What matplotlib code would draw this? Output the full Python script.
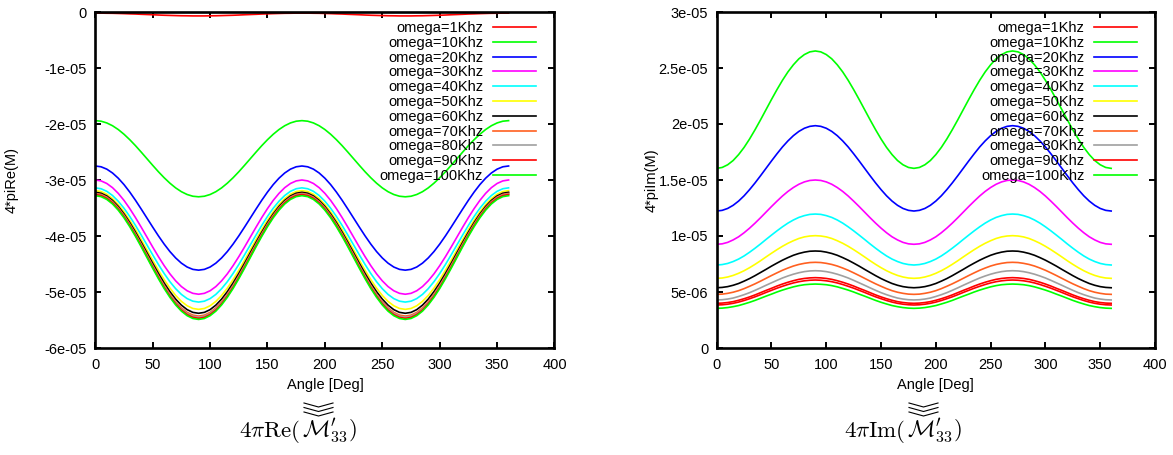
import numpy as np
import matplotlib
matplotlib.use("Agg")
import matplotlib.pyplot as plt
from matplotlib.lines import Line2D

plt.rcParams['font.family'] = ['Liberation Sans', 'DejaVu Sans']
plt.rcParams['mathtext.fontset'] = 'cm'

# angle samples (deg), every 5 deg
angle = list(range(0, 361, 5))

labels = ["omega=1Khz", "omega=10Khz", "omega=20Khz", "omega=30Khz", "omega=40Khz",
          "omega=50Khz", "omega=60Khz", "omega=70Khz", "omega=80Khz", "omega=90Khz",
          "omega=100Khz"]
colors = ["#ff0000", "#00ff00", "#0000ff", "#ff00ff", "#00ffff", "#ffff00",
          "#000000", "#ff6020", "#a0a0a0", "#ff0000", "#00ff00"]

# values, in units of 1e-05
re_1k = [-0.020, -0.020, -0.022, -0.023, -0.026, -0.029, -0.033, -0.036, -0.041, -0.045, -0.049, -0.054, -0.058, -0.061, -0.064, -0.067, -0.068, -0.070, -0.070,
         -0.070, -0.068, -0.067, -0.064, -0.061, -0.058, -0.054, -0.049, -0.045, -0.041, -0.036, -0.033, -0.029, -0.026, -0.023, -0.022, -0.020, -0.020,
         -0.020, -0.022, -0.023, -0.026, -0.029, -0.033, -0.036, -0.041, -0.045, -0.049, -0.054, -0.058, -0.061, -0.064, -0.067, -0.068, -0.070, -0.070,
         -0.070, -0.068, -0.067, -0.064, -0.061, -0.058, -0.054, -0.049, -0.045, -0.041, -0.036, -0.033, -0.029, -0.026, -0.023, -0.022, -0.020, -0.020]
re_10k = [-1.940, -1.950, -1.981, -2.031, -2.099, -2.183, -2.280, -2.387, -2.502, -2.620, -2.738, -2.853, -2.960, -3.057, -3.141, -3.209, -3.259, -3.290, -3.300,
          -3.290, -3.259, -3.209, -3.141, -3.057, -2.960, -2.853, -2.738, -2.620, -2.502, -2.387, -2.280, -2.183, -2.099, -2.031, -1.981, -1.950, -1.940,
          -1.950, -1.981, -2.031, -2.099, -2.183, -2.280, -2.387, -2.502, -2.620, -2.738, -2.853, -2.960, -3.057, -3.141, -3.209, -3.259, -3.290, -3.300,
          -3.290, -3.259, -3.209, -3.141, -3.057, -2.960, -2.853, -2.738, -2.620, -2.502, -2.387, -2.280, -2.183, -2.099, -2.031, -1.981, -1.950, -1.940]
re_20k = [-2.750, -2.764, -2.806, -2.875, -2.968, -3.082, -3.215, -3.362, -3.519, -3.680, -3.841, -3.998, -4.145, -4.278, -4.392, -4.485, -4.554, -4.596, -4.610,
          -4.596, -4.554, -4.485, -4.392, -4.278, -4.145, -3.998, -3.841, -3.680, -3.519, -3.362, -3.215, -3.082, -2.968, -2.875, -2.806, -2.764, -2.750,
          -2.764, -2.806, -2.875, -2.968, -3.082, -3.215, -3.362, -3.519, -3.680, -3.841, -3.998, -4.145, -4.278, -4.392, -4.485, -4.554, -4.596, -4.610,
          -4.596, -4.554, -4.485, -4.392, -4.278, -4.145, -3.998, -3.841, -3.680, -3.519, -3.362, -3.215, -3.082, -2.968, -2.875, -2.806, -2.764, -2.750]
re_30k = [-3.000, -3.016, -3.062, -3.137, -3.239, -3.364, -3.510, -3.671, -3.843, -4.020, -4.197, -4.369, -4.530, -4.676, -4.801, -4.903, -4.978, -5.024, -5.040,
          -5.024, -4.978, -4.903, -4.801, -4.676, -4.530, -4.369, -4.197, -4.020, -3.843, -3.671, -3.510, -3.364, -3.239, -3.137, -3.062, -3.016, -3.000,
          -3.016, -3.062, -3.137, -3.239, -3.364, -3.510, -3.671, -3.843, -4.020, -4.197, -4.369, -4.530, -4.676, -4.801, -4.903, -4.978, -5.024, -5.040,
          -5.024, -4.978, -4.903, -4.801, -4.676, -4.530, -4.369, -4.197, -4.020, -3.843, -3.671, -3.510, -3.364, -3.239, -3.137, -3.062, -3.016, -3.000]
re_40k = [-3.140, -3.156, -3.202, -3.277, -3.379, -3.504, -3.650, -3.811, -3.983, -4.160, -4.337, -4.509, -4.670, -4.816, -4.941, -5.043, -5.118, -5.164, -5.180,
          -5.164, -5.118, -5.043, -4.941, -4.816, -4.670, -4.509, -4.337, -4.160, -3.983, -3.811, -3.650, -3.504, -3.379, -3.277, -3.202, -3.156, -3.140,
          -3.156, -3.202, -3.277, -3.379, -3.504, -3.650, -3.811, -3.983, -4.160, -4.337, -4.509, -4.670, -4.816, -4.941, -5.043, -5.118, -5.164, -5.180,
          -5.164, -5.118, -5.043, -4.941, -4.816, -4.670, -4.509, -4.337, -4.160, -3.983, -3.811, -3.650, -3.504, -3.379, -3.277, -3.202, -3.156, -3.140]
re_50k = [-3.190, -3.206, -3.254, -3.332, -3.438, -3.569, -3.720, -3.887, -4.066, -4.250, -4.434, -4.613, -4.780, -4.931, -5.062, -5.168, -5.246, -5.294, -5.310,
          -5.294, -5.246, -5.168, -5.062, -4.931, -4.780, -4.613, -4.434, -4.250, -4.066, -3.887, -3.720, -3.569, -3.438, -3.332, -3.254, -3.206, -3.190,
          -3.206, -3.254, -3.332, -3.438, -3.569, -3.720, -3.887, -4.066, -4.250, -4.434, -4.613, -4.780, -4.931, -5.062, -5.168, -5.246, -5.294, -5.310,
          -5.294, -5.246, -5.168, -5.062, -4.931, -4.780, -4.613, -4.434, -4.250, -4.066, -3.887, -3.720, -3.569, -3.438, -3.332, -3.254, -3.206, -3.190]
re_60k = [-3.220, -3.236, -3.285, -3.365, -3.473, -3.606, -3.760, -3.931, -4.113, -4.300, -4.488, -4.669, -4.840, -4.994, -5.127, -5.235, -5.315, -5.364, -5.380,
          -5.364, -5.315, -5.235, -5.127, -4.994, -4.840, -4.669, -4.488, -4.300, -4.113, -3.931, -3.760, -3.606, -3.473, -3.365, -3.285, -3.236, -3.220,
          -3.236, -3.285, -3.365, -3.473, -3.606, -3.760, -3.931, -4.113, -4.300, -4.488, -4.669, -4.840, -4.994, -5.127, -5.235, -5.315, -5.364, -5.380,
          -5.364, -5.315, -5.235, -5.127, -4.994, -4.840, -4.669, -4.488, -4.300, -4.113, -3.931, -3.760, -3.606, -3.473, -3.365, -3.285, -3.236, -3.220]
re_70k = [-3.240, -3.257, -3.306, -3.387, -3.496, -3.631, -3.788, -3.961, -4.145, -4.335, -4.525, -4.710, -4.883, -5.039, -5.174, -5.283, -5.364, -5.413, -5.430,
          -5.413, -5.364, -5.283, -5.174, -5.039, -4.883, -4.710, -4.525, -4.335, -4.145, -3.961, -3.788, -3.631, -3.496, -3.387, -3.306, -3.257, -3.240,
          -3.257, -3.306, -3.387, -3.496, -3.631, -3.788, -3.961, -4.145, -4.335, -4.525, -4.710, -4.883, -5.039, -5.174, -5.283, -5.364, -5.413, -5.430,
          -5.413, -5.364, -5.283, -5.174, -5.039, -4.883, -4.710, -4.525, -4.335, -4.145, -3.961, -3.788, -3.631, -3.496, -3.387, -3.306, -3.257, -3.240]
re_80k = [-3.250, -3.267, -3.316, -3.397, -3.507, -3.643, -3.800, -3.974, -4.159, -4.350, -4.541, -4.726, -4.900, -5.057, -5.193, -5.303, -5.384, -5.433, -5.450,
          -5.433, -5.384, -5.303, -5.193, -5.057, -4.900, -4.726, -4.541, -4.350, -4.159, -3.974, -3.800, -3.643, -3.507, -3.397, -3.316, -3.267, -3.250,
          -3.267, -3.316, -3.397, -3.507, -3.643, -3.800, -3.974, -4.159, -4.350, -4.541, -4.726, -4.900, -5.057, -5.193, -5.303, -5.384, -5.433, -5.450,
          -5.433, -5.384, -5.303, -5.193, -5.057, -4.900, -4.726, -4.541, -4.350, -4.159, -3.974, -3.800, -3.643, -3.507, -3.397, -3.316, -3.267, -3.250]
re_90k = [-3.260, -3.277, -3.327, -3.408, -3.519, -3.655, -3.813, -3.987, -4.173, -4.365, -4.557, -4.743, -4.918, -5.075, -5.211, -5.322, -5.403, -5.453, -5.470,
          -5.453, -5.403, -5.322, -5.211, -5.075, -4.918, -4.743, -4.557, -4.365, -4.173, -3.987, -3.813, -3.655, -3.519, -3.408, -3.327, -3.277, -3.260,
          -3.277, -3.327, -3.408, -3.519, -3.655, -3.813, -3.987, -4.173, -4.365, -4.557, -4.743, -4.918, -5.075, -5.211, -5.322, -5.403, -5.453, -5.470,
          -5.453, -5.403, -5.322, -5.211, -5.075, -4.918, -4.743, -4.557, -4.365, -4.173, -3.987, -3.813, -3.655, -3.519, -3.408, -3.327, -3.277, -3.260]
re_100k = [-3.280, -3.297, -3.347, -3.428, -3.539, -3.675, -3.833, -4.007, -4.193, -4.385, -4.577, -4.763, -4.938, -5.095, -5.231, -5.342, -5.423, -5.473, -5.490,
           -5.473, -5.423, -5.342, -5.231, -5.095, -4.938, -4.763, -4.577, -4.385, -4.193, -4.007, -3.833, -3.675, -3.539, -3.428, -3.347, -3.297, -3.280,
           -3.297, -3.347, -3.428, -3.539, -3.675, -3.833, -4.007, -4.193, -4.385, -4.577, -4.763, -4.938, -5.095, -5.231, -5.342, -5.423, -5.473, -5.490,
           -5.473, -5.423, -5.342, -5.231, -5.095, -4.938, -4.763, -4.577, -4.385, -4.193, -4.007, -3.833, -3.675, -3.539, -3.428, -3.347, -3.297, -3.280]

im_1k = [0.384, 0.386, 0.391, 0.399, 0.410, 0.424, 0.440, 0.457, 0.476, 0.496, 0.515, 0.534, 0.551, 0.567, 0.581, 0.592, 0.600, 0.605, 0.607,
         0.605, 0.600, 0.592, 0.581, 0.567, 0.551, 0.534, 0.515, 0.496, 0.476, 0.457, 0.440, 0.424, 0.410, 0.399, 0.391, 0.386, 0.384,
         0.386, 0.391, 0.399, 0.410, 0.424, 0.440, 0.457, 0.476, 0.496, 0.515, 0.534, 0.551, 0.567, 0.581, 0.592, 0.600, 0.605, 0.607,
         0.605, 0.600, 0.592, 0.581, 0.567, 0.551, 0.534, 0.515, 0.496, 0.476, 0.457, 0.440, 0.424, 0.410, 0.399, 0.391, 0.386, 0.384]
im_10k = [1.604, 1.612, 1.636, 1.674, 1.727, 1.791, 1.866, 1.949, 2.037, 2.128, 2.219, 2.307, 2.390, 2.465, 2.529, 2.582, 2.620, 2.644, 2.652,
          2.644, 2.620, 2.582, 2.529, 2.465, 2.390, 2.307, 2.219, 2.128, 2.037, 1.949, 1.866, 1.791, 1.727, 1.674, 1.636, 1.612, 1.604,
          1.612, 1.636, 1.674, 1.727, 1.791, 1.866, 1.949, 2.037, 2.128, 2.219, 2.307, 2.390, 2.465, 2.529, 2.582, 2.620, 2.644, 2.652,
          2.644, 2.620, 2.582, 2.529, 2.465, 2.390, 2.307, 2.219, 2.128, 2.037, 1.949, 1.866, 1.791, 1.727, 1.674, 1.636, 1.612, 1.604]
im_20k = [1.223, 1.229, 1.246, 1.274, 1.312, 1.359, 1.414, 1.474, 1.538, 1.604, 1.670, 1.734, 1.795, 1.849, 1.896, 1.934, 1.962, 1.979, 1.985,
          1.979, 1.962, 1.934, 1.896, 1.849, 1.795, 1.734, 1.670, 1.604, 1.538, 1.474, 1.414, 1.359, 1.312, 1.274, 1.246, 1.229, 1.223,
          1.229, 1.246, 1.274, 1.312, 1.359, 1.414, 1.474, 1.538, 1.604, 1.670, 1.734, 1.795, 1.849, 1.896, 1.934, 1.962, 1.979, 1.985,
          1.979, 1.962, 1.934, 1.896, 1.849, 1.795, 1.734, 1.670, 1.604, 1.538, 1.474, 1.414, 1.359, 1.312, 1.274, 1.246, 1.229, 1.223]
im_30k = [0.926, 0.930, 0.943, 0.965, 0.993, 1.029, 1.070, 1.115, 1.163, 1.213, 1.263, 1.311, 1.357, 1.398, 1.433, 1.462, 1.483, 1.496, 1.500,
          1.496, 1.483, 1.462, 1.433, 1.398, 1.357, 1.311, 1.263, 1.213, 1.163, 1.115, 1.070, 1.029, 0.993, 0.965, 0.943, 0.930, 0.926,
          0.930, 0.943, 0.965, 0.993, 1.029, 1.070, 1.115, 1.163, 1.213, 1.263, 1.311, 1.357, 1.398, 1.433, 1.462, 1.483, 1.496, 1.500,
          1.496, 1.483, 1.462, 1.433, 1.398, 1.357, 1.311, 1.263, 1.213, 1.163, 1.115, 1.070, 1.029, 0.993, 0.965, 0.943, 0.930, 0.926]
im_40k = [0.741, 0.745, 0.755, 0.772, 0.794, 0.822, 0.855, 0.891, 0.929, 0.969, 1.008, 1.046, 1.082, 1.115, 1.143, 1.166, 1.182, 1.193, 1.196,
          1.193, 1.182, 1.166, 1.143, 1.115, 1.082, 1.046, 1.008, 0.969, 0.929, 0.891, 0.855, 0.822, 0.794, 0.772, 0.755, 0.745, 0.741,
          0.745, 0.755, 0.772, 0.794, 0.822, 0.855, 0.891, 0.929, 0.969, 1.008, 1.046, 1.082, 1.115, 1.143, 1.166, 1.182, 1.193, 1.196,
          1.193, 1.182, 1.166, 1.143, 1.115, 1.082, 1.046, 1.008, 0.969, 0.929, 0.891, 0.855, 0.822, 0.794, 0.772, 0.755, 0.745, 0.741]
im_50k = [0.622, 0.625, 0.634, 0.648, 0.667, 0.690, 0.717, 0.747, 0.779, 0.813, 0.846, 0.878, 0.908, 0.935, 0.958, 0.978, 0.992, 1.000, 1.003,
          1.000, 0.992, 0.978, 0.958, 0.935, 0.908, 0.878, 0.846, 0.813, 0.779, 0.747, 0.717, 0.690, 0.667, 0.648, 0.634, 0.625, 0.622,
          0.625, 0.634, 0.648, 0.667, 0.690, 0.717, 0.747, 0.779, 0.813, 0.846, 0.878, 0.908, 0.935, 0.958, 0.978, 0.992, 1.000, 1.003,
          1.000, 0.992, 0.978, 0.958, 0.935, 0.908, 0.878, 0.846, 0.813, 0.779, 0.747, 0.717, 0.690, 0.667, 0.648, 0.634, 0.625, 0.622]
im_60k = [0.538, 0.541, 0.548, 0.560, 0.576, 0.597, 0.620, 0.646, 0.674, 0.702, 0.731, 0.758, 0.784, 0.807, 0.828, 0.844, 0.856, 0.864, 0.866,
          0.864, 0.856, 0.844, 0.828, 0.807, 0.784, 0.758, 0.731, 0.702, 0.674, 0.646, 0.620, 0.597, 0.576, 0.560, 0.548, 0.541, 0.538,
          0.541, 0.548, 0.560, 0.576, 0.597, 0.620, 0.646, 0.674, 0.702, 0.731, 0.758, 0.784, 0.807, 0.828, 0.844, 0.856, 0.864, 0.866,
          0.864, 0.856, 0.844, 0.828, 0.807, 0.784, 0.758, 0.731, 0.702, 0.674, 0.646, 0.620, 0.597, 0.576, 0.560, 0.548, 0.541, 0.538]
im_70k = [0.479, 0.481, 0.488, 0.498, 0.512, 0.530, 0.551, 0.573, 0.597, 0.622, 0.647, 0.671, 0.694, 0.714, 0.732, 0.746, 0.756, 0.763, 0.765,
          0.763, 0.756, 0.746, 0.732, 0.714, 0.694, 0.671, 0.647, 0.622, 0.597, 0.573, 0.551, 0.530, 0.512, 0.498, 0.488, 0.481, 0.479,
          0.481, 0.488, 0.498, 0.512, 0.530, 0.551, 0.573, 0.597, 0.622, 0.647, 0.671, 0.694, 0.714, 0.732, 0.746, 0.756, 0.763, 0.765,
          0.763, 0.756, 0.746, 0.732, 0.714, 0.694, 0.671, 0.647, 0.622, 0.597, 0.573, 0.551, 0.530, 0.512, 0.498, 0.488, 0.481, 0.479]
im_80k = [0.429, 0.431, 0.437, 0.446, 0.460, 0.476, 0.494, 0.515, 0.537, 0.560, 0.582, 0.604, 0.625, 0.643, 0.659, 0.672, 0.682, 0.688, 0.690,
          0.688, 0.682, 0.672, 0.659, 0.643, 0.625, 0.604, 0.582, 0.560, 0.537, 0.515, 0.494, 0.476, 0.460, 0.446, 0.437, 0.431, 0.429,
          0.431, 0.437, 0.446, 0.460, 0.476, 0.494, 0.515, 0.537, 0.560, 0.582, 0.604, 0.625, 0.643, 0.659, 0.672, 0.682, 0.688, 0.690,
          0.688, 0.682, 0.672, 0.659, 0.643, 0.625, 0.604, 0.582, 0.560, 0.537, 0.515, 0.494, 0.476, 0.460, 0.446, 0.437, 0.431, 0.429]
im_90k = [0.399, 0.401, 0.406, 0.414, 0.426, 0.440, 0.456, 0.474, 0.494, 0.514, 0.533, 0.553, 0.571, 0.587, 0.601, 0.613, 0.621, 0.626, 0.628,
          0.626, 0.621, 0.613, 0.601, 0.587, 0.571, 0.553, 0.533, 0.514, 0.494, 0.474, 0.456, 0.440, 0.426, 0.414, 0.406, 0.401, 0.399,
          0.401, 0.406, 0.414, 0.426, 0.440, 0.456, 0.474, 0.494, 0.514, 0.533, 0.553, 0.571, 0.587, 0.601, 0.613, 0.621, 0.626, 0.628,
          0.626, 0.621, 0.613, 0.601, 0.587, 0.571, 0.553, 0.533, 0.514, 0.494, 0.474, 0.456, 0.440, 0.426, 0.414, 0.406, 0.401, 0.399]
im_100k = [0.354, 0.356, 0.361, 0.369, 0.379, 0.393, 0.408, 0.425, 0.444, 0.463, 0.481, 0.500, 0.517, 0.532, 0.546, 0.557, 0.565, 0.569, 0.571,
           0.569, 0.565, 0.557, 0.546, 0.532, 0.517, 0.500, 0.481, 0.463, 0.444, 0.425, 0.408, 0.393, 0.379, 0.369, 0.361, 0.356, 0.354,
           0.356, 0.361, 0.369, 0.379, 0.393, 0.408, 0.425, 0.444, 0.463, 0.481, 0.500, 0.517, 0.532, 0.546, 0.557, 0.565, 0.569, 0.571,
           0.569, 0.565, 0.557, 0.546, 0.532, 0.517, 0.500, 0.481, 0.463, 0.444, 0.425, 0.408, 0.393, 0.379, 0.369, 0.361, 0.356, 0.354]

re_series = [re_1k, re_10k, re_20k, re_30k, re_40k, re_50k, re_60k, re_70k, re_80k, re_90k, re_100k]
im_series = [im_1k, im_10k, im_20k, im_30k, im_40k, im_50k, im_60k, im_70k, im_80k, im_90k, im_100k]
unit = 1e-5

xticks = [0, 50, 100, 150, 200, 250, 300, 350, 400]
re_yticks = [0, -1e-05, -2e-05, -3e-05, -4e-05, -5e-05, -6e-05]
re_yticklabels = ["0", "-1e-05", "-2e-05", "-3e-05", "-4e-05", "-5e-05", "-6e-05"]
im_yticks = [0, 5e-06, 1e-05, 1.5e-05, 2e-05, 2.5e-05, 3e-05]
im_yticklabels = ["0", "5e-06", "1e-05", "1.5e-05", "2e-05", "2.5e-05", "3e-05"]

fs = 10.5
W, H = 1173, 455
fig = plt.figure(figsize=(W / 100, H / 100), dpi=100)
ax1 = fig.add_axes([95.3 / W, 1 - 348 / H, 459.2 / W, 336 / H])
ax2 = fig.add_axes([716.7 / W, 1 - 348 / H, 438.3 / W, 336 / H])


def style(ax, series, yticks, yticklabels, ylim, ylabel, ylabel_x):
    for vals, c, lab in zip(series, colors, labels):
        ax.plot(angle, np.array(vals) * unit, color=c, lw=1.2, label=lab)
    ax.set_xlim(0, 400)
    ax.set_ylim(*ylim)
    ax.set_xticks(xticks)
    ax.set_xticklabels([str(t) for t in xticks])
    ax.set_yticks(yticks)
    ax.set_yticklabels(yticklabels)
    ax.tick_params(direction="in", top=True, right=True, length=4, width=1.4,
                   labelsize=fs, colors="black")
    ax.tick_params(axis="x", pad=7.5)
    ax.tick_params(axis="y", pad=6)
    for sp in ax.spines.values():
        sp.set_linewidth(1.9)
    ax.set_xlabel("Angle [Deg]", fontsize=fs)
    ax.xaxis.set_label_coords(0.5, -0.089)
    ax.set_ylabel(ylabel, fontsize=fs)
    ax.yaxis.set_label_coords(ylabel_x, 0.5)
    ax.legend(loc="upper right", bbox_to_anchor=(0.96, 0.973), frameon=False,
              markerfirst=False, fontsize=fs, handlelength=2.95, handletextpad=0.68,
              labelspacing=0.055, borderpad=0, borderaxespad=0)


style(ax1, re_series, re_yticks, re_yticklabels, (-6e-05, 0), "4*piRe(M)", -0.166)
style(ax2, im_series, im_yticks, im_yticklabels, (0, 3e-05), "4*piIm(M)", -0.132)

# captions: split so the accent sits over the M
base = 1 - 437 / H
for pre, split in ((r"$4\pi\mathrm{Re}($", 301), (r"$4\pi\mathrm{Im}($", 906)):
    fig.text((split - 1) / W, base, pre, fontsize=16.5, ha="right", va="baseline")
    fig.text((split + 1) / W, base, r"$\mathcal{M}^{\prime}_{33})$", fontsize=16.5,
             ha="left", va="baseline")
    # triple chevron accent
    x0 = split + 3
    for i in range(3):
        y0 = 403 + 4.5 * i
        xs = [x0 / W, (x0 + 14.5) / W, (x0 + 29) / W]
        ys = [1 - y0 / H, 1 - (y0 + 4) / H, 1 - y0 / H]
        fig.add_artist(Line2D(xs, ys, color="black", lw=0.8))

fig.savefig("out.png", dpi=100)
